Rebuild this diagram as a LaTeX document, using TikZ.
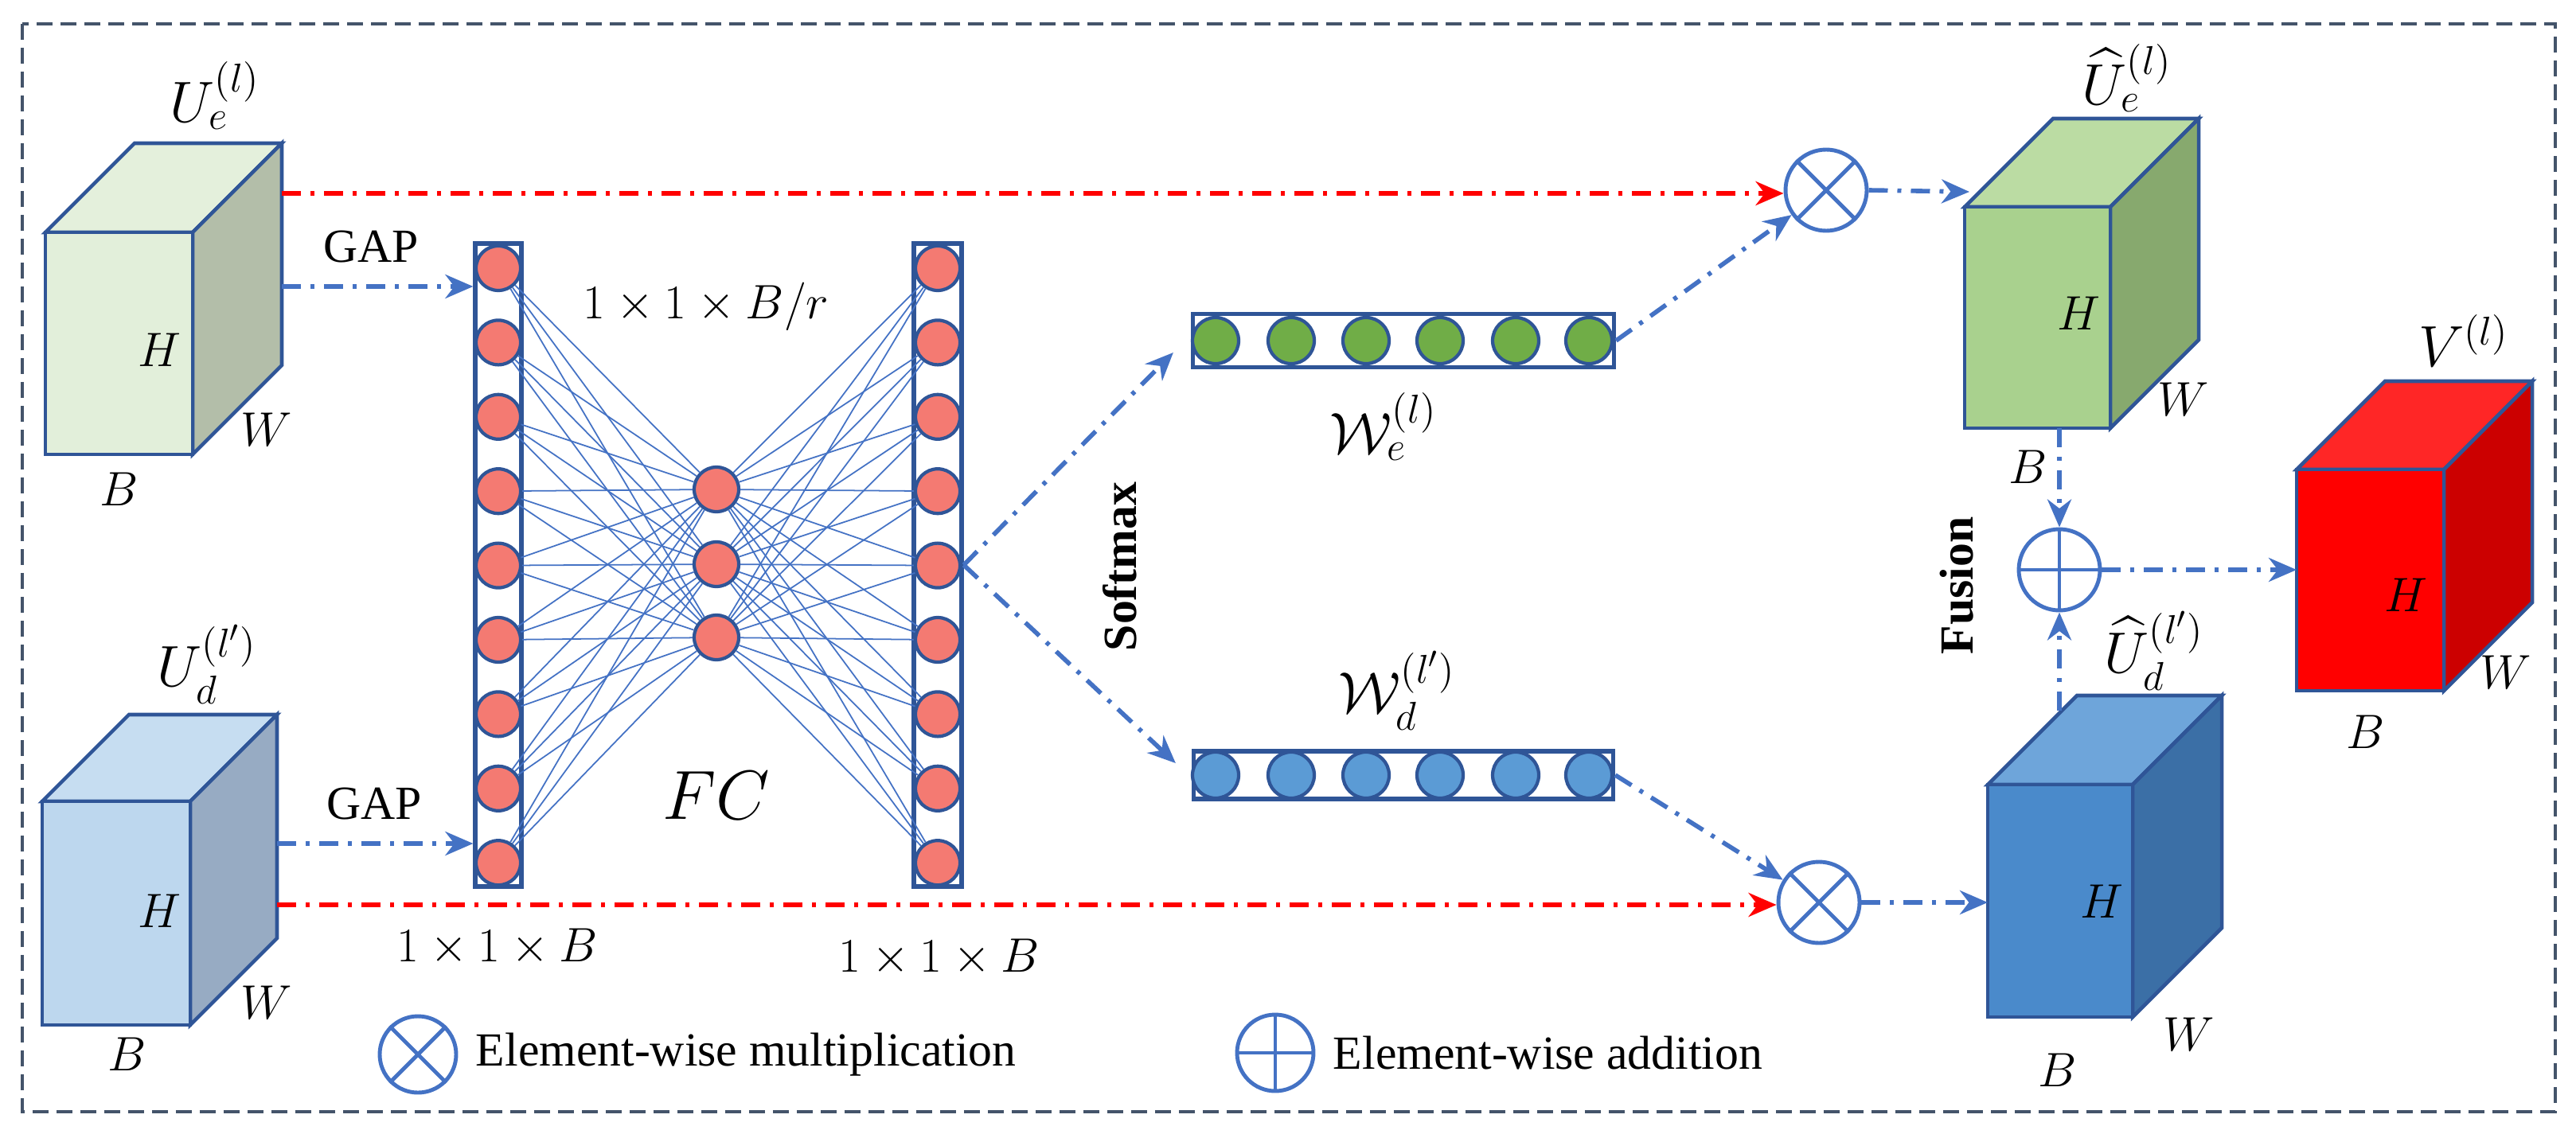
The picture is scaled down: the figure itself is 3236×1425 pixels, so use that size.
\documentclass[tikz,border=0pt]{standalone}
\usepackage{fontspec}
\setmainfont{Liberation Serif}
\usepackage{amsmath}
\usetikzlibrary{arrows.meta, calc}

\definecolor{edge}{HTML}{2F5597}
\definecolor{link}{HTML}{4472C4}
\definecolor{salmon}{HTML}{F47A72}
\definecolor{leaf}{HTML}{70AD47}
\definecolor{sky}{HTML}{5B9BD5}
\definecolor{frame}{HTML}{44546A}
\definecolor{paleFront}{HTML}{E2EFDA}
\definecolor{paleSide}{HTML}{B3BEA9}
\definecolor{paleTop}{HTML}{E4F0DC}
\definecolor{iceFront}{HTML}{BDD7EE}
\definecolor{iceSide}{HTML}{97ABC3}
\definecolor{iceTop}{HTML}{C6DDF1}
\definecolor{grassFront}{HTML}{A9D18E}
\definecolor{grassSide}{HTML}{87A96E}
\definecolor{grassTop}{HTML}{BBDCA3}
\definecolor{seaFront}{HTML}{4A8ACB}
\definecolor{seaSide}{HTML}{3B6FA6}
\definecolor{seaTop}{HTML}{6EA5DA}

\newcommand{\biglabel}{\fontsize{21}{24}\selectfont}

% cube: x, y (front top left), width, height, depth, front, side, top
\newcommand{\drawcube}[8]{%
	\filldraw[cubeline, fill=#8] (#1,#2) -- ({#1+#5},{#2-#5}) -- ({#1+#3+#5},{#2-#5}) -- ({#1+#3},#2) -- cycle;
	\filldraw[cubeline, fill=#7] ({#1+#3},#2) -- ({#1+#3+#5},{#2-#5}) -- ({#1+#3+#5},{#2+#4-#5}) -- ({#1+#3},{#2+#4}) -- cycle;
	\filldraw[cubeline, fill=#6] (#1,#2) rectangle ({#1+#3},{#2+#4});
}

\begin{document}
\begin{tikzpicture}[x=0.1mm, y=-0.1mm, font=\fontsize{17}{20}\selectfont,
	cubeline/.style={draw=edge, line width=1.3pt},
	neuron/.style={circle, draw=edge, line width=1.2pt, fill=salmon, minimum size=5.6mm, inner sep=0},
	cell/.style={circle, draw=edge, line width=1.2pt, minimum size=5.8mm, inner sep=0},
	bar/.style={draw=edge, line width=1.5pt, inner sep=0},
	op/.style={circle, draw=link, line width=1.4pt, minimum size=10.2mm, inner sep=0},
	tag/.style={font=\biglabel, inner sep=1pt},
	flow/.style={link, line width=1.6pt, dash pattern=on 2.4mm off 1.2mm on 0.5mm off 1.2mm, -{Stealth[length=3.5mm, width=3mm]}},
	skip/.style={flow, red, line width=1.8pt}]
	\useasboundingbox (0,0) rectangle (3236,1425);
	\draw[frame, line width=1.2pt, dash pattern=on 2mm off 1mm] (28,30) rectangle (3210,1397);

	% input cubes
	\drawcube{57}{292}{185}{279}{112}{paleFront}{paleSide}{paleTop}
	\drawcube{53}{1007}{186}{281}{109}{iceFront}{iceSide}{iceTop}
	\node[tag] at (270,120) {$U_e^{(l)}$};
	\node at (200,440) {$H$};
	\node at (335,540) {$W$};
	\node at (150,615) {$B$};
	\node[tag] at (260,835) {$U_d^{(l')}$};
	\node at (200,1145) {$H$};
	\node at (335,1260) {$W$};
	\node at (160,1325) {$B$};
	\coordinate (gap1) at (354,360);
	\coordinate (gap2) at (348,1060);
	\coordinate (redA) at (354,243);
	\coordinate (redB) at (348,1137);

	% FC layers
	\node[bar, minimum width=5.8mm, minimum height=80.8mm] (lbar) at (626,710) {};
	\node[bar, minimum width=6mm, minimum height=80.8mm] (rbar) at (1178,710) {};
	\foreach \i in {1,...,9}{
		\node[neuron] (l\i) at (626,{337+(\i-1)*93.4}) {};
		\node[neuron] (r\i) at (1178,{337+(\i-1)*93.4}) {};
	}
	\foreach \j/\y in {1/615, 2/709, 3/801}
		\node[neuron] (m\j) at (900,\y) {};
	\foreach \i in {1,...,9}
		\foreach \j in {1,2,3}{
			\draw[link, line width=0.5pt] (l\i) -- (m\j);
			\draw[link, line width=0.5pt] (m\j) -- (r\i);
		}
	\node at (887,385) {$1\times 1\times B/r$};
	\node at (900,1000) {\fontsize{24}{28}\selectfont $FC$};
	\node at (625,1190) {$1\times 1\times B$};
	\node at (1180,1203) {$1\times 1\times B$};
	\node at (466,310) {GAP};
	\node at (470,1010) {GAP};
	\draw[flow] (gap1) -- (gap1 -| lbar.west);
	\draw[flow] (gap2) -- (gap2 -| lbar.west);

	% attention vectors
	\node[bar, minimum width=52.9mm, minimum height=6.7mm] (gbar) at (1763,428) {};
	\node[bar, minimum width=52.7mm, minimum height=6mm] (bbar) at (1763,974) {};
	\foreach \x [count=\k] in {1527,1622,1716,1809,1904,1996}{
		\node[cell, fill=leaf] (g\k) at (\x,428) {};
		\node[cell, fill=sky] (b\k) at (\x,974) {};
	}
	\node[tag] at (1738,536) {$\mathcal{W}_e^{(l)}$};
	\node[tag] at (1755,868) {$\mathcal{W}_d^{(l')}$};
	\node[rotate=90, font=\fontsize{17}{20}\selectfont\bfseries] at (1407,712) {Softmax};
	\draw[flow] (rbar.east) -- ([xshift=-2.2mm, yshift=-1.5mm]gbar.west);
	\draw[flow] (rbar.east) -- ([xshift=-2mm, yshift=1.5mm]bbar.west);

	% multiplication
	\node[op] (ot1) at (2294,239) {};
	\node[op] (ot2) at (2285,1134) {};
	\foreach \o in {ot1, ot2}{
		\draw[link, line width=1.4pt] (\o.45) -- (\o.225);
		\draw[link, line width=1.4pt] (\o.135) -- (\o.315);
	}
	\draw[skip] (redA) -- (redA -| ot1.west);
	\draw[skip] (redB) -- (redB -| ot2.west);
	\draw[flow] (gbar.east) -- (ot1);
	\draw[flow] (bbar.east) -- (ot2);

	% output cubes
	\drawcube{2468}{260}{183}{278}{111}{grassFront}{grassSide}{grassTop}
	\drawcube{2497}{986}{182}{292}{112}{seaFront}{seaSide}{seaTop}
	\drawcube{2885}{590}{185}{278}{111}{red}{red!80!black}{red!85!white}
	\node[tag] at (2672,98) {$\widehat{U}_e^{(l)}$};
	\node at (2611,394) {$H$};
	\node at (2743,502) {$W$};
	\node at (2548,587) {$B$};
	\node[tag] at (2706,818) {$\widehat{U}_d^{(l')}$};
	\node at (2640,1133) {$H$};
	\node at (2750,1300) {$W$};
	\node at (2585,1345) {$B$};
	\node[tag] at (3095,428) {$V^{(l)}$};
	\node at (3022,748) {$H$};
	\node at (3148,845) {$W$};
	\node at (2972,920) {$B$};
	\coordinate (ueIn) at (2474,241);
	\coordinate (udIn) at (2497,1134);
	\coordinate (ueOut) at (2587,538);
	\coordinate (udOut) at (2587,893);
	\coordinate (vIn) at (2885,716);
	\draw[flow] (ot1.east) -- (ueIn);
	\draw[flow] (ot2.east) -- (udIn);

	% fusion
	\node[op] (add) at (2587,716) {};
	\draw[link, line width=1.4pt] (add.north) -- (add.south);
	\draw[link, line width=1.4pt] (add.west) -- (add.east);
	\draw[flow] (ueOut) -- (add.north);
	\draw[flow] (udOut) -- (add.south);
	\draw[flow] (add.east) -- (vIn);
	\node[rotate=90, font=\fontsize{17}{20}\selectfont\bfseries] at (2458,736) {Fusion};

	% legend
	\node[op, minimum size=9.6mm] (keyMul) at (525,1325) {};
	\draw[link, line width=1.4pt] (keyMul.45) -- (keyMul.225);
	\draw[link, line width=1.4pt] (keyMul.135) -- (keyMul.315);
	\node[right=1mm] at (keyMul.east) {Element-wise multiplication};
	\node[op, minimum size=9.6mm] (keyAdd) at (1602,1323) {};
	\draw[link, line width=1.4pt] (keyAdd.north) -- (keyAdd.south);
	\draw[link, line width=1.4pt] (keyAdd.west) -- (keyAdd.east);
	\node[right=1mm] at (keyAdd.east) {Element-wise addition};
\end{tikzpicture}
\end{document}
